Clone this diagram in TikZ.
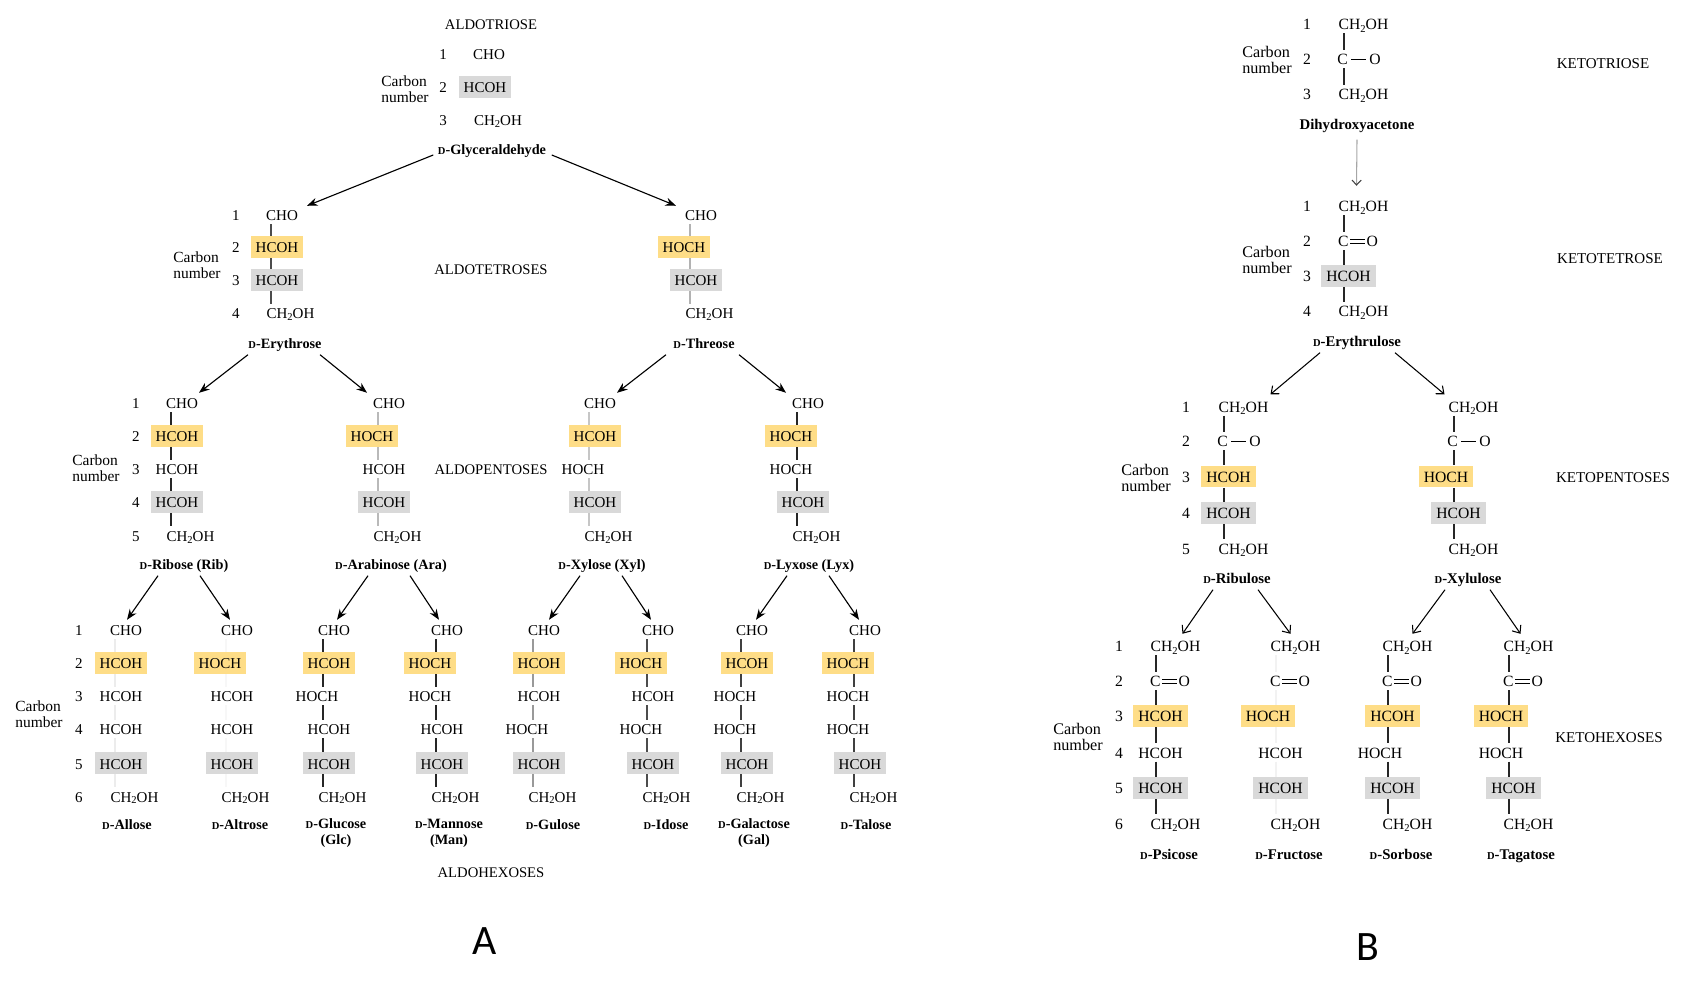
\documentclass[tikz,border=0pt]{standalone}
\usepackage{xcolor}
\usepackage{fontspec}
\setmainfont{Liberation Serif}
\newfontfamily\panelfont{Carlito}
\usetikzlibrary{arrows.meta,positioning}
\definecolor{boxyellow}{RGB}{254,221,135}
\definecolor{boxgray}{RGB}{217,217,217}

% sizes, 1 px of the page is 0.01 cm
\newcommand{\chemfont}{\fontsize{4.27}{5}\selectfont}
\newcommand{\classfont}{\fontsize{4.17}{5}\selectfont}
\newcommand{\carbonfont}{\fontsize{4.4}{4.55}\selectfont}
\newcommand{\namefont}{\fontsize{4.05}{4.55}\selectfont\bfseries}
\newcommand{\smallD}{{\fontsize{3.0}{3}\selectfont D}}
\newcommand{\subtwo}{\raisebox{-.28ex}{\fontsize{3}{3}\selectfont 2}}
\newcommand{\sbond}{\kern.22em\rule[.3em]{.95em}{.07em}\kern.22em}
\newcommand{\dbond}{\kern.1em\rlap{\rule[.2em]{.95em}{.07em}}\rule[.42em]{.95em}{.07em}\kern.1em}

% x offset from the bond line and text of each kind of row
\def\offcho{11}    \def\txtcho{CHO}
\def\offchtwo{19.5}\def\txtchtwo{CH\subtwo OH}
\def\offhcoh{6}    \def\txthcoh{HCOH}
\def\offhoch{-6}   \def\txthoch{HOCH}
\def\offkhcoh{4.5} \def\txtkhcoh{HCOH}
\def\offkhoch{-8}  \def\txtkhoch{HOCH}
\def\offco{15}     \def\txtco{C\sbond O}
\def\offdco{14}    \def\txtdco{C\dbond O}

\tikzset{
  sugarplain/.style={font=\chemfont,inner xsep=.05cm,inner ysep=0pt,minimum height=.17cm,text height=.12cm,text depth=0pt},
  sugaryellow/.style={sugarplain,fill=boxyellow,minimum height=.215cm},
  sugargray/.style={sugarplain,fill=boxgray,minimum height=.215cm},
  sugarnum/.style={font=\chemfont,inner sep=0pt,text height=.12cm,text depth=0pt},
  sugarname/.style={font=\namefont,inner xsep=0pt,inner ysep=.05cm,text height=.1cm,text depth=0pt},
  sugarnametwo/.style={font=\namefont,inner sep=0pt,align=center},
  sugarclass/.style={font=\classfont,inner sep=0pt,text height=.12cm,text depth=0pt},
  carbonlabel/.style={font=\carbonfont,inner sep=0pt,align=left},
  panelmark/.style={font=\panelfont\fontsize{11.9}{12}\selectfont,inner sep=0pt},
  sugarbond/.style={line width=.34pt},
  aldoarrow/.style={line width=.32pt,-{Stealth[length=3pt,width=2.3pt]}},
  ketoarrow/.style={line width=.3pt,-{Straight Barb[length=1.8pt,width=3pt]}}
}

% name, x of the bond line, colour of the bond line, rows y/kind/look
\newcommand{\sugarchain}[4]{%
  \coordinate (#1L) at (#2,0);
  \foreach \y/\kind/\look [count=\i,remember=\i as \j (initially 0)] in {#4}{
    \edef\sugaroff{\csname off\kind\endcsname}
    \node[sugar\look] (#1\i) at ({#2+\sugaroff},\y) {\csname txt\kind\endcsname};
    \ifnum\j>0 \draw[sugarbond,#3] (#1\j.south -| #1L) -- (#1\i.north -| #1L); \fi
  }
}
% numbers of a column: name, x, list of y
\newcommand{\carbonnums}[3]{%
  \foreach \y [count=\n] in {#3}{
    \node[sugarnum] (#1\n) at (#2,\y) {\n};
  }
}
\newcommand{\aldopent}[5]{\sugarchain{#1}{#2}{#3}{403/cho/plain,436/#4/yellow,469/#5/plain,502/hcoh/gray,535.5/chtwo/plain}}
\newcommand{\aldohex}[6]{\sugarchain{#1}{#2}{#3}{630/cho/plain,663/#4/yellow,696/#5/plain,729/#6/plain,763/hcoh/gray,796/chtwo/plain}}
\newcommand{\ketohex}[5]{\sugarchain{#1}{#2}{#3}{646/chtwo/plain,681/dco/plain,716/#4/yellow,752.5/#5/plain,788/khcoh/gray,823.5/chtwo/plain}}

\begin{document}
\begin{tikzpicture}[x=.01cm,y=-.01cm]
  \useasboundingbox (0,0) rectangle (1700,992);
  % A: aldoses
  \node[sugarclass] (aldotriose) at (491,24) {ALDOTRIOSE};
  \carbonnums{ntri}{443}{54,87,120}
  \node[carbonlabel] (carbontri) at (405,89) {Carbon\\number};
  \node[sugarplain] (gly1) at (489,54) {\txtcho};
  \node[sugargray] (gly2) at (485,87) {\txthcoh};
  \node[sugarplain] (gly3) at (498,120) {\txtchtwo};
  \node[sugarname] (glyname) at (492,150) {\smallD-Glyceraldehyde};

  \node[sugarclass] (aldotetroses) at (491,269) {ALDOTETROSES};
  \carbonnums{ntet}{236}{215,247,280,313}
  \node[carbonlabel] (carbontet) at (197,265) {Carbon\\number};
  \sugarchain{ery}{271}{black!70}{215/cho/plain,247/hcoh/yellow,280/hcoh/gray,313/chtwo/plain}
  \sugarchain{thr}{690}{gray!60}{215/cho/plain,247/hoch/yellow,280/hcoh/gray,313/chtwo/plain}
  \node[sugarname] (eryname) at (285,344) {\smallD-Erythrose};
  \node[sugarname] (thrname) at (704,344) {\smallD-Threose};

  \node[sugarclass] (aldopentoses) at (491,469) {ALDOPENTOSES};
  \carbonnums{npen}{136}{403,436,469,502,535.5}
  \node[carbonlabel] (carbonpen) at (96,468) {Carbon\\number};
  \aldopent{rib}{171}{black!85}{hcoh}{hcoh}
  \aldopent{ara}{378}{gray!55}{hoch}{hcoh}
  \aldopent{xyl}{589}{gray!45}{hcoh}{hoch}
  \aldopent{lyx}{797}{black!85}{hoch}{hoch}
  \node[sugarname] (ribname) at (184,565) {\smallD-Ribose (Rib)};
  \node[sugarname] (araname) at (391,565) {\smallD-Arabinose (Ara)};
  \node[sugarname] (xylname) at (602,565) {\smallD-Xylose (Xyl)};
  \node[sugarname] (lyxname) at (809,565) {\smallD-Lyxose (Lyx)};

  \carbonnums{nhex}{79}{630,663,696,729,763,796}
  \node[carbonlabel] (carbonhex) at (39,714) {Carbon\\number};
  \aldohex{all}{115}{gray!15}{hcoh}{hcoh}{hcoh}
  \aldohex{alt}{226}{gray!6}{hoch}{hcoh}{hcoh}
  \aldohex{glc}{323}{black!85}{hcoh}{hoch}{hcoh}
  \aldohex{man}{436}{black!85}{hoch}{hoch}{hcoh}
  \aldohex{gul}{533}{gray!80}{hcoh}{hcoh}{hoch}
  \aldohex{ido}{647}{black!70}{hoch}{hcoh}{hoch}
  \aldohex{gal}{741}{black!75}{hcoh}{hoch}{hoch}
  \aldohex{tal}{854}{black!75}{hoch}{hoch}{hoch}
  \node[sugarname] (allname) at (127,825) {\smallD-Allose};
  \node[sugarname] (altname) at (240,825) {\smallD-Altrose};
  \node[sugarnametwo] (glcname) at (336,833) {\smallD-Glucose\\(Glc)};
  \node[sugarnametwo] (manname) at (449,833) {\smallD-Mannose\\(Man)};
  \node[sugarname] (gulname) at (553,825) {\smallD-Gulose};
  \node[sugarname] (idoname) at (666,825) {\smallD-Idose};
  \node[sugarnametwo] (galname) at (754,833) {\smallD-Galactose\\(Gal)};
  \node[sugarname] (talname) at (866,825) {\smallD-Talose};
  \node[sugarclass] (aldohexoses) at (491,871) {ALDOHEXOSES};
  \node[panelmark] (marka) at (485,941) {A};

  % arrows of A
  \draw[aldoarrow] ([shift={(-4,5)}]glyname.west) -- ([xshift=.25cm]ery1.north);
  \draw[aldoarrow] ([shift={(5,5)}]glyname.east) -- ([xshift=-.25cm]thr1.north);
  \foreach \from/\dx/\to/\tip in {ery/-37/rib/17,ery/35/ara/-22,thr/-38/xyl/17,thr/35/lyx/-22,
    rib/-26/all/1,rib/16/alt/-7,ara/-23/glc/3,ara/19/man/-8,
    xyl/-22/gul/5,xyl/20/ido/-7,lyx/-22/gal/4,lyx/20/tal/-6}{
    \draw[aldoarrow] ([shift={(\dx,0)}]\from name.south) -- ([shift={(\tip,-1)}]\to1.north);
  }

  % B: ketoses, set a little larger
  \begin{scope}
    \renewcommand{\chemfont}{\fontsize{4.45}{5}\selectfont}
    \renewcommand{\classfont}{\fontsize{4.27}{5}\selectfont}
    \renewcommand{\carbonfont}{\fontsize{4.6}{4.55}\selectfont}
    \renewcommand{\namefont}{\fontsize{4.2}{4.55}\selectfont\bfseries}
    \carbonnums{ktri}{1307}{24,59,94}
    \node[carbonlabel] (carbonktri) at (1267,60) {Carbon\\number};
    \sugarchain{dhy}{1344}{black!85}{24/chtwo/plain,59/co/plain,94/chtwo/plain}
    \node[sugarname] (dhyname) at (1357,125) {Dihydroxyacetone};
    \node[sugarclass] (ketotriose) at (1603,63) {KETOTRIOSE};

    \carbonnums{ktet}{1307}{206,241,276,311}
    \node[carbonlabel] (carbonktet) at (1267,260) {Carbon\\number};
    \sugarchain{eru}{1344}{black!85}{206/chtwo/plain,241/dco/plain,276/khcoh/gray,311/chtwo/plain}
    \node[sugarname] (eruname) at (1357,342) {\smallD-Erythrulose};
    \node[sugarclass] (ketotetrose) at (1610,258) {KETOTETROSE};

    \carbonnums{kpen}{1186}{406.5,441,476.5,513,548.5}
    \node[carbonlabel] (carbonkpen) at (1146,478) {Carbon\\number};
    \sugarchain{rbl}{1224}{black!85}{406.5/chtwo/plain,441/co/plain,476.5/khcoh/yellow,513/khcoh/gray,548.5/chtwo/plain}
    \sugarchain{xlu}{1454}{black!85}{406.5/chtwo/plain,441/co/plain,476.5/khoch/yellow,513/khcoh/gray,548.5/chtwo/plain}
    \node[sugarname] (rblname) at (1237,579) {\smallD-Ribulose};
    \node[sugarname] (xluname) at (1468,579) {\smallD-Xylulose};
    \node[sugarclass] (ketopentoses) at (1613,477) {KETOPENTOSES};

    \carbonnums{khex}{1119}{646,681,716,752.5,788,823.5}
    \node[carbonlabel] (carbonkhex) at (1078,737) {Carbon\\number};
    \ketohex{psi}{1156}{black!85}{khcoh}{khcoh}
    \ketohex{fru}{1276}{gray!10}{khoch}{khcoh}
    \ketohex{sor}{1388}{black!85}{khcoh}{khoch}
    \ketohex{tag}{1509}{black!85}{khoch}{khoch}
    \node[sugarname] (psiname) at (1169,854) {\smallD-Psicose};
    \node[sugarname] (fruname) at (1289,854) {\smallD-Fructose};
    \node[sugarname] (sorname) at (1401,854) {\smallD-Sorbose};
    \node[sugarname] (tagname) at (1521,854) {\smallD-Tagatose};
    \node[sugarclass] (ketohexoses) at (1609,736) {KETOHEXOSES};
  \end{scope}
  \node[panelmark] (markb) at (1368,947) {B};

  % arrows of B
  \draw[line width=.3pt,gray!70,-{Straight Barb[black!75,length=1.4pt,width=2.6pt]}] ([yshift=-.04cm]dhyname.south) -- ([shift={(-7,-11)}]eru1.north);
  \foreach \from/\dx/\to/\tip in {eru/-37/rbl/27,eru/38/xlu/-29,
    rbl/-24/psi/7,rbl/21/fru/-5,xlu/-23/sor/5,xlu/22/tag/-8}{
    \draw[ketoarrow] ([shift={(\dx,0)}]\from name.south) -- ([shift={(\tip,-3)}]\to1.north);
  }
\end{tikzpicture}
\end{document}
